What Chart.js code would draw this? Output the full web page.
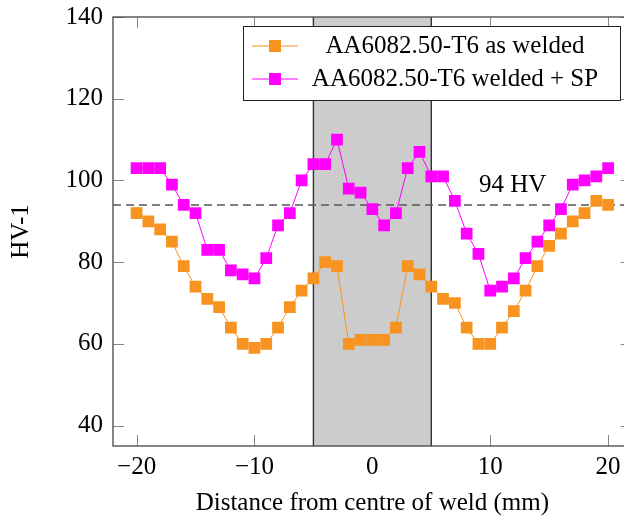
<!DOCTYPE html>
<html>
<head>
<meta charset="utf-8">
<script src="https://cdn.jsdelivr.net/npm/chart.js@4/dist/chart.umd.min.js"></script>
<style>
  html, body { margin: 0; padding: 0; background: #fff; overflow: hidden; }
  canvas { display: block; }
</style>
</head>
<body>
<canvas id="hardness" width="640" height="523"></canvas>
<script>
// distance from weld centre (mm)
const positions = [-20, -19, -18, -17, -16, -15, -14, -13, -12, -11, -10, -9, -8, -7, -6, -5, -4, -3, -2, -1,
  0, 1, 2, 3, 4, 5, 6, 7, 8, 9, 10, 11, 12, 13, 14, 15, 16, 17, 18, 19, 20];
const asWelded = [92, 90, 88, 85, 79, 74, 71, 69, 64, 60, 59, 60, 64, 69, 73, 76, 80, 79, 60, 61,
  61, 61, 64, 79, 77, 74, 71, 70, 64, 60, 60, 64, 68, 73, 79, 84, 87, 90, 92, 95, 94];
const weldedSP = [103, 103, 103, 99, 94, 92, 83, 83, 78, 77, 76, 81, 89, 92, 100, 104, 104, 110, 98, 97,
  93, 89, 92, 103, 107, 101, 101, 95, 87, 82, 73, 74, 76, 81, 85, 89, 93, 99, 100, 101, 103];
const seriesNames = ['AA6082.50-T6 as welded', 'AA6082.50-T6 welded + SP'];
const xTicks = [-20, -10, 0, 10, 20];
const yTicks = [40, 60, 80, 100, 120, 140];
const weldZone = [-5, 5];
const threshold = 94;
const thresholdLabel = '94 HV';

const ORANGE = '#f7931e';
const MAGENTA = '#ff00ff';
const FONT = '"Liberation Serif", "Times New Roman", serif';

Chart.defaults.font.family = FONT;
Chart.defaults.font.size = 25;
Chart.defaults.color = '#000';

const toPoints = (ys) => ys.map((y, i) => ({ x: positions[i], y }));

// ticks, shaded weld zone
const backgroundPlugin = {
  id: 'background',
  beforeDatasetsDraw(chart) {
    const { ctx, chartArea: a, scales: { x, y } } = chart;
    ctx.save();
    ctx.strokeStyle = '#888';
    ctx.lineWidth = 1;
    const tl = 11;
    ctx.beginPath();
    xTicks.forEach((v) => {
      const px = Math.round(x.getPixelForValue(v)) + 0.5;
      ctx.moveTo(px, a.bottom); ctx.lineTo(px, a.bottom - tl);
      ctx.moveTo(px, a.top); ctx.lineTo(px, a.top + tl);
    });
    yTicks.forEach((v) => {
      const py = Math.round(y.getPixelForValue(v)) + 0.5;
      ctx.moveTo(a.left, py); ctx.lineTo(a.left + tl, py);
      ctx.moveTo(a.right, py); ctx.lineTo(a.right - tl, py);
    });
    ctx.stroke();

    const x0 = x.getPixelForValue(weldZone[0]);
    const x1 = x.getPixelForValue(weldZone[1]);
    ctx.fillStyle = '#cccccc';
    ctx.fillRect(x0, a.top, x1 - x0, a.bottom - a.top);
    ctx.strokeStyle = '#333';
    ctx.lineWidth = 1.4;
    ctx.beginPath();
    ctx.moveTo(x0, a.top); ctx.lineTo(x0, a.bottom);
    ctx.moveTo(x1, a.top); ctx.lineTo(x1, a.bottom);
    ctx.stroke();

    ctx.strokeStyle = '#444';
    ctx.lineWidth = 1.3;
    ctx.strokeRect(a.left, a.top, a.right - a.left, a.bottom - a.top);
    ctx.restore();
  },
};

// threshold label and legend box
const overlayPlugin = {
  id: 'overlay',
  afterDatasetsDraw(chart) {
    const { ctx, scales: { x, y } } = chart;
    ctx.save();
    ctx.font = '25px ' + FONT;
    ctx.fillStyle = '#000';
    ctx.textAlign = 'center';
    ctx.textBaseline = 'middle';
    ctx.fillText(thresholdLabel, x.getPixelForValue(11.9), y.getPixelForValue(98.8));

    // legend
    const box = { left: 243.5, top: 26.5, right: 620.5, bottom: 100.5 };
    ctx.fillStyle = '#fff';
    ctx.fillRect(box.left, box.top, box.right - box.left, box.bottom - box.top);
    ctx.strokeStyle = '#222';
    ctx.lineWidth = 1;
    ctx.strokeRect(box.left, box.top, box.right - box.left, box.bottom - box.top);
    const rows = [46, 79];
    const colors = [ORANGE, MAGENTA];
    rows.forEach((ry, i) => {
      ctx.strokeStyle = colors[i];
      ctx.lineWidth = 1;
      ctx.beginPath();
      ctx.moveTo(252, ry); ctx.lineTo(298, ry);
      ctx.stroke();
      ctx.fillStyle = colors[i];
      ctx.fillRect(275 - 6, ry - 6, 12, 12);
      ctx.fillStyle = '#000';
      ctx.fillText(seriesNames[i], 455, ry);
    });
    ctx.restore();
  },
};

new Chart(document.getElementById('hardness'), {
  type: 'line',
  data: {
    datasets: [
      {
        label: seriesNames[1],
        data: toPoints(weldedSP),
        borderColor: MAGENTA,
        backgroundColor: MAGENTA,
        borderWidth: 1,
        pointStyle: 'rect',
        pointRadius: 8.3,
        pointBorderWidth: 0,
        order: 1,
      },
      {
        label: seriesNames[0],
        data: toPoints(asWelded),
        borderColor: ORANGE,
        backgroundColor: ORANGE,
        borderWidth: 1,
        pointStyle: 'rect',
        pointRadius: 8.3,
        pointBorderWidth: 0,
        order: 2,
      },
      {
        label: 'threshold',
        data: [{ x: -22, y: threshold }, { x: 22, y: threshold }],
        borderColor: '#555',
        borderWidth: 1.5,
        borderDash: [8, 5],
        pointRadius: 0,
        order: 3,
      },
    ],
  },
  options: {
    responsive: false,
    devicePixelRatio: 1,
    animation: false,
    events: [],
    layout: { padding: { top: 17, right: 8, left: 0, bottom: 0 } },
    plugins: { legend: { display: false }, tooltip: { enabled: false } },
    scales: {
      x: {
        type: 'linear',
        min: -22,
        max: 22,
        grid: { display: false, drawTicks: false },
        border: { display: false },
        afterBuildTicks: (scale) => { scale.ticks = xTicks.map((v) => ({ value: v })); },
        afterFit: (scale) => {
          scale.height = 77;
          scale.paddingLeft = 0;
          scale.paddingRight = 0;
        },
        ticks: {
          padding: 6,
          maxRotation: 0,
          callback: (v) => String(v).replace('-', '\u2212'),
        },
        title: { display: true, text: 'Distance from centre of weld (mm)', padding: { top: 0, bottom: 5 } },
      },
      y: {
        min: 35,
        max: 140,
        grid: { display: false, drawTicks: false },
        border: { display: false },
        afterBuildTicks: (scale) => { scale.ticks = yTicks.map((v) => ({ value: v })); },
        afterFit: (scale) => {
          scale.width = 113;
          scale.paddingTop = 0;
          scale.paddingBottom = 0;
        },
        ticks: { padding: 10 },
        title: { display: true, text: 'HV-1', padding: { top: 6, bottom: 0 } },
      },
    },
  },
  plugins: [backgroundPlugin, overlayPlugin],
});
</script>
</body>
</html>
